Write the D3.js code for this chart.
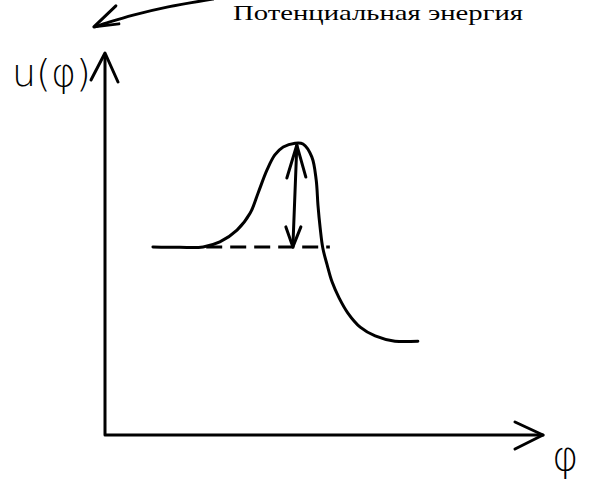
<!DOCTYPE html>
<html>
<head>
<meta charset="utf-8">
<script src="https://cdn.jsdelivr.net/npm/d3@7"></script>
<style>
  html, body { margin: 0; padding: 0; background: #fff; }
  svg { display: block; }
</style>
</head>
<body>
<svg id="chart" width="610" height="490"></svg>
<script>
// ---- data (sketch units: phi along x, U along y) ----
const curvePhi = [1.09, 1.70, 2.23, 2.61, 3.00, 3.30, 3.48, 3.68, 3.86, 4.05, 4.32, 4.50, 4.70, 4.80, 4.84, 4.89, 4.95, 5.05, 5.16, 5.32, 5.52, 5.80, 6.14, 6.59, 7.11];
const curveU   = [4.95, 4.94, 4.95, 5.08, 5.39, 5.84, 6.37, 6.97, 7.37, 7.58, 7.68, 7.66, 7.32, 6.71, 6.05, 5.45, 4.92, 4.47, 4.03, 3.61, 3.21, 2.84, 2.61, 2.47, 2.47];
const levelPhi = [2.30, 5.11];
const levelU   = [4.95, 4.95];
const barrierPhi = [4.36, 4.27];
const barrierU   = [7.63, 4.95];
const notePhi = [2.45, 1.41, 0.64, 0.11, -0.23];
const noteU   = [11.47, 11.26, 11.05, 10.87, 10.74];
const axisMax = [10, 10.0];
const yAxisLabel = "u(φ)";
const xAxisLabel = "φ";
const noteText = "Потенциальная энергия";

const svg = d3.select("#chart");
const x = d3.scaleLinear().domain([0, 10]).range([105, 545]);
const y = d3.scaleLinear().domain([0, 10]).range([435, 55]);

const pen = sel => sel.attr("fill", "none").attr("stroke", "#000")
  .attr("stroke-width", 3).attr("stroke-linecap", "round").attr("stroke-linejoin", "round");

// axes
const axisPath = d3.path();
axisPath.moveTo(x(0), y(axisMax[1]));
axisPath.lineTo(x(0), y(0));
axisPath.lineTo(x(axisMax[0]) - 2, y(0));
svg.append("path").attr("d", axisPath.toString()).call(pen);

// axis arrowheads
const yTip = [x(0), y(axisMax[1]) - 2];
svg.append("path").attr("d", d3.line()([[yTip[0] - 14, yTip[1] + 27], yTip, [yTip[0] + 13, yTip[1] + 29]])).call(pen);
const xTip = [x(axisMax[0]) - 2, y(0)];
svg.append("path").attr("d", d3.line()([[xTip[0] - 28, xTip[1] - 13], xTip, [xTip[0] - 28, xTip[1] + 14]])).call(pen);

// potential curve
const pts = curvePhi.map((p, i) => [x(p), y(curveU[i])]);
svg.append("path").attr("d", d3.line().curve(d3.curveCatmullRom.alpha(0.5))(pts)).call(pen);

// dashed level
svg.append("path")
  .attr("d", d3.line()(levelPhi.map((p, i) => [x(p), y(levelU[i])])))
  .call(pen).attr("stroke-linecap", "butt").attr("stroke-dasharray", "16,8");

// barrier double arrow
const bTop = [x(barrierPhi[0]), y(barrierU[0])];
const bBot = [x(barrierPhi[1]), y(barrierU[1])];
svg.append("path").attr("d", d3.line()([bTop, bBot])).call(pen);
svg.append("path").attr("d", d3.line()([[bTop[0] - 10, bTop[1] + 33], bTop, [bTop[0] + 9, bTop[1] + 32]])).call(pen);
svg.append("path").attr("d", d3.line()([[bBot[0] - 7, bBot[1] - 20], bBot, [bBot[0] + 8, bBot[1] - 20]])).call(pen);

// annotation arrow
const nPts = notePhi.map((p, i) => [x(p), y(noteU[i])]);
svg.append("path").attr("d", d3.line().curve(d3.curveCatmullRom)(nPts)).call(pen);
const nTip = nPts[nPts.length - 1];
svg.append("path").attr("d", d3.line()([[nTip[0] + 21, nTip[1] - 21], [nTip[0] - 1, nTip[1]], [nTip[0] + 24, nTip[1] - 3]])).call(pen);

// texts
svg.append("text").attr("x", 233).attr("y", 20)
  .attr("font-family", "'Liberation Serif', 'Times New Roman', serif")
  .attr("font-size", 22).attr("fill", "#000")
  .attr("textLength", 290).attr("lengthAdjust", "spacingAndGlyphs")
  .text(noteText);

svg.append("text").attr("x", 12).attr("y", 86)
  .attr("font-family", "'DejaVu Sans', sans-serif").attr("font-weight", 300)
  .attr("font-size", 38).attr("fill", "#000").text(yAxisLabel);

svg.append("text").attr("x", 552).attr("y", 470)
  .attr("font-family", "'DejaVu Sans', sans-serif").attr("font-weight", 300)
  .attr("font-size", 40).attr("fill", "#000").text(xAxisLabel);
</script>
</body>
</html>
